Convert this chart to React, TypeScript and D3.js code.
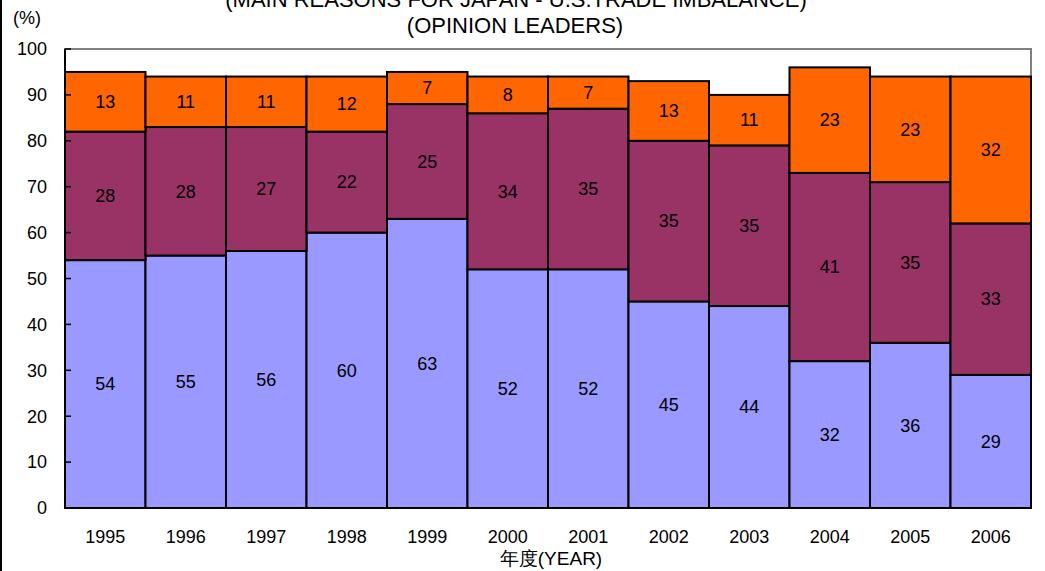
import * as d3 from "d3";
import React from "react";

const years = ["1995", "1996", "1997", "1998", "1999", "2000", "2001", "2002", "2003", "2004", "2005", "2006"];
const blueValues = [54, 55, 56, 60, 63, 52, 52, 45, 44, 32, 36, 29];
const purpleValues = [28, 28, 27, 22, 25, 34, 35, 35, 35, 41, 35, 33];
const orangeValues = [13, 11, 11, 12, 7, 8, 7, 13, 11, 23, 23, 32];
const yTicks = [0, 10, 20, 30, 40, 50, 60, 70, 80, 90, 100];

const SERIES = [
  { key: "blue", values: blueValues, color: "#9999FF" },
  { key: "purple", values: purpleValues, color: "#993366" },
  { key: "orange", values: orangeValues, color: "#FF6600" },
];

const W = 1045;
const H = 571;
const margin = { top: 49, right: 14, bottom: 63, left: 65 };
const FONT = "'Liberation Sans', Arial, sans-serif";

export default function App() {
  const x = d3
    .scaleBand()
    .domain(years)
    .range([margin.left, W - margin.right])
    .padding(0);
  const y = d3
    .scaleLinear()
    .domain([0, 100])
    .range([H - margin.bottom, margin.top]);

  const rows = years.map((yr, i) => {
    const r: Record<string, number | string> = { year: yr };
    SERIES.forEach((s) => (r[s.key] = s.values[i]));
    return r;
  });
  const stacked = d3.stack<any>().keys(SERIES.map((s) => s.key))(rows);

  return (
    <svg
      width={W}
      height={H}
      style={{ position: "fixed", left: 0, top: 0, background: "#fff" }}
      fontFamily={FONT}
    >
      <line x1={1} x2={1} y1={0} y2={H} stroke="#000" strokeWidth={2} />
      <text x={516} y={7} textAnchor="middle" fontSize={22} fill="#000">
        (MAIN REASONS FOR JAPAN - U.S.TRADE IMBALANCE)
      </text>
      <text x={515} y={33} textAnchor="middle" fontSize={22} fill="#000">
        (OPINION LEADERS)
      </text>
      <text x={27} y={24} textAnchor="middle" fontSize={18} fill="#000">
        (%)
      </text>

      {/* plot frame */}
      <rect
        x={margin.left}
        y={margin.top}
        width={W - margin.left - margin.right}
        height={H - margin.top - margin.bottom}
        fill="#fff"
        stroke="#808080"
        strokeWidth={2}
      />

      {stacked.map((layer, li) => (
        <g key={layer.key}>
          {layer.map((d, i) => (
            <rect
              key={i}
              x={x(years[i])!}
              y={y(d[1])}
              width={x.bandwidth()}
              height={y(d[0]) - y(d[1])}
              fill={SERIES[li].color}
              stroke="#000"
              strokeWidth={2}
            />
          ))}
        </g>
      ))}

      {stacked.map((layer) => (
        <g key={layer.key + "-lbl"}>
          {layer.map((d, i) => (
            <text
              key={i}
              x={x(years[i])! + x.bandwidth() / 2}
              y={(y(d[0]) + y(d[1])) / 2}
              dy="0.35em"
              textAnchor="middle"
              fontSize={18}
              fill="#000"
            >
              {d[1] - d[0]}
            </text>
          ))}
        </g>
      ))}

      {/* axes */}
      <line
        x1={margin.left}
        x2={margin.left}
        y1={margin.top}
        y2={H - margin.bottom}
        stroke="#000"
        strokeWidth={2}
      />
      <line
        x1={margin.left}
        x2={W - margin.right}
        y1={H - margin.bottom}
        y2={H - margin.bottom}
        stroke="#000"
        strokeWidth={2}
      />
      {yTicks.map((t) => (
        <g key={t}>
          <line x1={margin.left} x2={margin.left + 6} y1={y(t)} y2={y(t)} stroke="#000" strokeWidth={1.5} />
          <text x={47} y={y(t)} dy="0.35em" textAnchor="end" fontSize={18} fill="#000">
            {t}
          </text>
        </g>
      ))}
      {years.map((yr) => (
        <text
          key={yr}
          x={x(yr)! + x.bandwidth() / 2}
          y={543}
          textAnchor="middle"
          fontSize={18}
          fill="#000"
        >
          {yr}
        </text>
      ))}
      <text x={551} y={565} textAnchor="middle" fontSize={19} fill="#000">
        年度(YEAR)
      </text>
    </svg>
  );
}
